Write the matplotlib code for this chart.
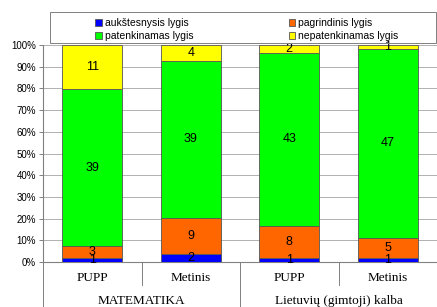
import matplotlib as mpl
mpl.use('Agg')
import matplotlib.pyplot as plt
import matplotlib.patches as mpatches
import numpy as np

categories = ['PUPP', 'Metinis', 'PUPP', 'Metinis']
groups = ['MATEMATIKA', 'Lietuvių (gimtoji) kalba']
series = ['aukštesnysis lygis', 'pagrindinis lygis', 'patenkinamas lygis', 'nepatenkinamas lygis']
aukstesnysis = [1, 2, 1, 1]
pagrindinis = [3, 9, 8, 5]
patenkinamas = [39, 39, 43, 47]
nepatenkinamas = [11, 4, 2, 1]
colors = ['#0000FF', '#FF6600', '#00FF00', '#FFFF00']

plt.rcParams['font.family'] = ['Liberation Sans', 'DejaVu Sans']

fig = plt.figure(figsize=(4.37, 3.07), dpi=100)
ax = fig.add_axes([43/437, 1-262/307, 394/437, 217/307])

values = np.array([aukstesnysis, pagrindinis, patenkinamas, nepatenkinamas], dtype=float)
totals = values.sum(axis=0)
pct = values / totals * 100
x = np.arange(len(categories))
bottom = np.zeros(len(categories))
handles = []
for i, name in enumerate(series):
    b = ax.bar(x, pct[i], 0.61, bottom=bottom, color=colors[i], edgecolor='#555555',
               linewidth=0.6, label=name, zorder=3)
    handles.append(b)
    for j in range(len(categories)):
        ax.text(x[j], bottom[j] + pct[i][j] / 2, str(int(values[i][j])),
                ha='center', va='center', fontsize=9, zorder=4)
    bottom += pct[i]

ax.set_xlim(-0.5, 3.5)
ax.set_ylim(0, 100)
ax.set_yticks(range(0, 101, 10))
ax.set_yticklabels(['{}%'.format(v) for v in range(0, 101, 10)], fontsize=7)
ax.yaxis.grid(True, color='#b0b0b0', linewidth=0.7, zorder=0)
ax.tick_params(axis='y', length=3, width=0.7, color='#808080', pad=2)
ax.set_xticks([])
for s in ['top', 'right']:
    ax.spines[s].set_visible(False)
ax.spines['left'].set_color('#808080')
ax.spines['bottom'].set_color('#808080')

# category labels below the axis
tr = ax.get_xaxis_transform()
for j, c in enumerate(categories):
    ax.text(x[j], -0.074, c, transform=tr, ha='center', va='center',
            fontsize=9.5, family='Liberation Serif')
for g, gx in enumerate([0.5, 2.5]):
    ax.text(gx, -0.18, groups[g], transform=tr, ha='center', va='center',
            fontsize=9.5, family='Liberation Serif')
sep = dict(transform=tr, color='#808080', linewidth=0.7, clip_on=False)
ax.plot([-0.5, -0.5], [0, -0.25], **sep)
ax.plot([0.5, 0.5], [0, -0.106], **sep)
ax.plot([1.5, 1.5], [0, -0.25], **sep)
ax.plot([2.5, 2.5], [0, -0.106], **sep)

# legend frame and entries (row-major order)
fig.patches.append(mpatches.Rectangle((50/437, 1-43/307), 386/437, 31/307,
                                      transform=fig.transFigure, fill=False,
                                      edgecolor='#808080', linewidth=0.7))
order = [0, 2, 1, 3]
leg = fig.legend(handles=[handles[k] for k in order], labels=[series[k] for k in order],
                 loc='upper left', bbox_to_anchor=(88/437, 1-11/307),
                 ncol=2, fontsize=7.5, frameon=False,
                 handlelength=0.6, handleheight=0.6, handletextpad=0.3,
                 columnspacing=9.2, borderpad=0.2, labelspacing=0.25)

fig.savefig('out.png', dpi=100)
